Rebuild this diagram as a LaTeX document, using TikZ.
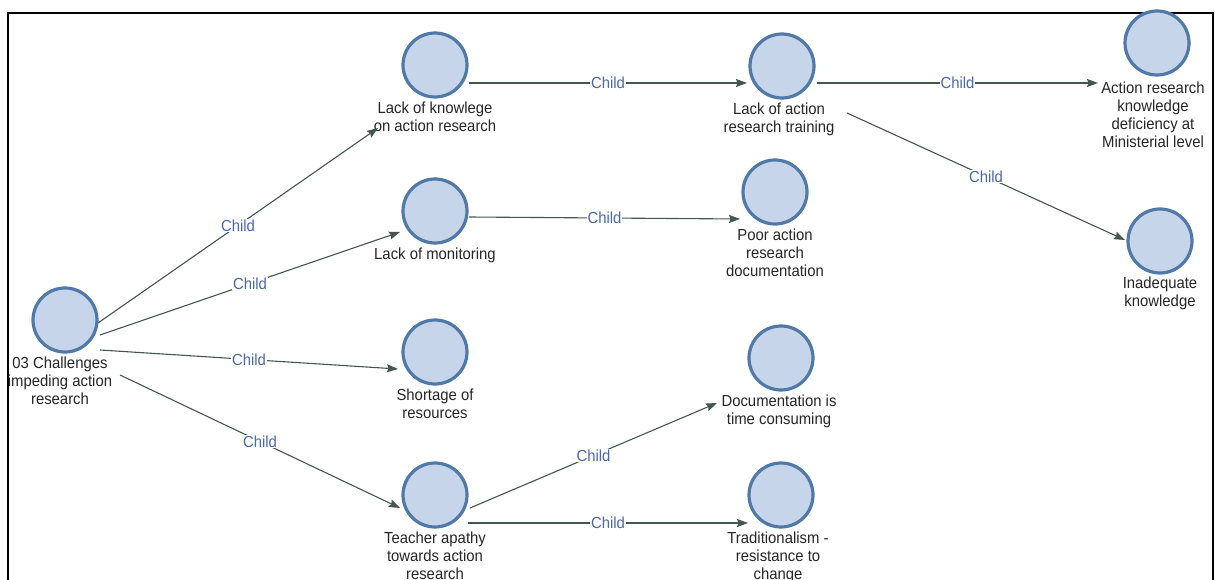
\documentclass[tikz,border=0pt]{standalone}
\usepackage{fontspec}
\setmainfont{Liberation Sans}[FakeStretch=0.93]
\usetikzlibrary{calc,arrows.meta}
\definecolor{ringc}{HTML}{5079A8}
\definecolor{fillc}{HTML}{C7D5EA}
\definecolor{edgec}{HTML}{43574F}
\definecolor{childc}{HTML}{4A68B0}
\tikzset{
  concept/.style={circle, minimum size=64pt, inner sep=0pt, outer sep=0pt, draw=ringc, line width=3.2pt, fill=fillc},
  lbl/.style={anchor=north, align=center, inner sep=0pt, font=\fontsize{16}{18}\selectfont, text=black!85},
  edge/.style={draw=edgec, line width=1.1pt, -{Stealth[length=11pt,width=8pt,inset=1.5pt]}},
  childlbl/.style={midway, fill=white, inner sep=1pt, text=childc, font=\fontsize{16}{18}\selectfont},
}
\begin{document}
\begin{tikzpicture}[x=1pt,y=-1pt]
\useasboundingbox (0,0) rectangle (1215,580);
\fill[white] (0,0) rectangle (1215,580);
\draw[line width=2pt, black] (8,13) rectangle (1213,640);

% concept circles
\node[concept] (root) at (65,320) {};
\node[concept] (lk) at (435,65) {};
\node[concept] (lm) at (435,211) {};
\node[concept] (sr) at (435,352) {};
\node[concept] (ta) at (435,495) {};
\node[concept] (la) at (782,66) {};
\node[concept] (pa) at (775,192) {};
\node[concept] (dt) at (781,358) {};
\node[concept] (tr) at (781,495) {};
\node[concept] (ar) at (1157,43) {};
\node[concept] (ik) at (1160,241) {};

% labels
\node[lbl] (rootl) at ($(root)+(-5,37)$) {03 Challenges\\impeding action\\research};
\node[lbl] (lkl) at ($(lk)+(0,37)$) {Lack of knowlege\\on action research};
\node[lbl] (lml) at ($(lm)+(0,37)$) {Lack of monitoring};
\node[lbl] (srl) at ($(sr)+(0,37)$) {Shortage of\\resources};
\node[lbl] (tal) at ($(ta)+(0,37)$) {Teacher apathy\\towards action\\research};
\node[lbl] (lal) at ($(la)+(-3,37)$) {Lack of action\\research training};
\node[lbl] (pal) at ($(pa)+(0,37)$) {Poor action\\research\\documentation};
\node[lbl] (dtl) at ($(dt)+(-2,37)$) {Documentation is\\time consuming};
\node[lbl] (trl) at ($(tr)+(-3,37)$) {Traditionalism -\\resistance to\\change};
\node[lbl] (arl) at ($(ar)+(-4,39)$) {Action research\\knowledge\\deficiency at\\Ministerial level};
\node[lbl] (ikl) at ($(ik)+(0,36)$) {Inadequate\\knowledge};

% connectors
\draw[edge] ($(root)+(33,3)$) -- ($(lk)+(-57,63)$) node[childlbl] {Child};
\draw[edge] ($(root)+(35,15)$) -- ($(lm)+(-35,21)$) node[childlbl] {Child};
\draw[edge] ($(root)+(35,30)$) -- ($(sr)+(-37,17)$) node[childlbl] {Child};
\draw[edge] ($(root)+(55,55)$) -- ($(ta)+(-35,13)$) node[childlbl] {Child};
\draw[edge] ($(ta)+(35,13)$) -- ($(dt)+(-64,45)$) node[childlbl] {Child};
\draw[edge] ($(ta)+(33,28)$) -- ($(tr)+(-33,28)$) node[childlbl] {Child};
\draw[edge] ($(lk)+(34,18)$) -- ($(la)+(-35,17)$) node[childlbl] {Child};
\draw[edge] ($(la)+(35,17)$) -- ($(ar)+(-59,40)$) node[childlbl] {Child};
\draw[edge] ($(la)+(65,47)$) -- ($(ik)+(-35,-1)$) node[childlbl] {Child};
\draw[edge] ($(lm)+(34,6)$) -- ($(pa)+(-35,27)$) node[childlbl] {Child};
\end{tikzpicture}
\end{document}
